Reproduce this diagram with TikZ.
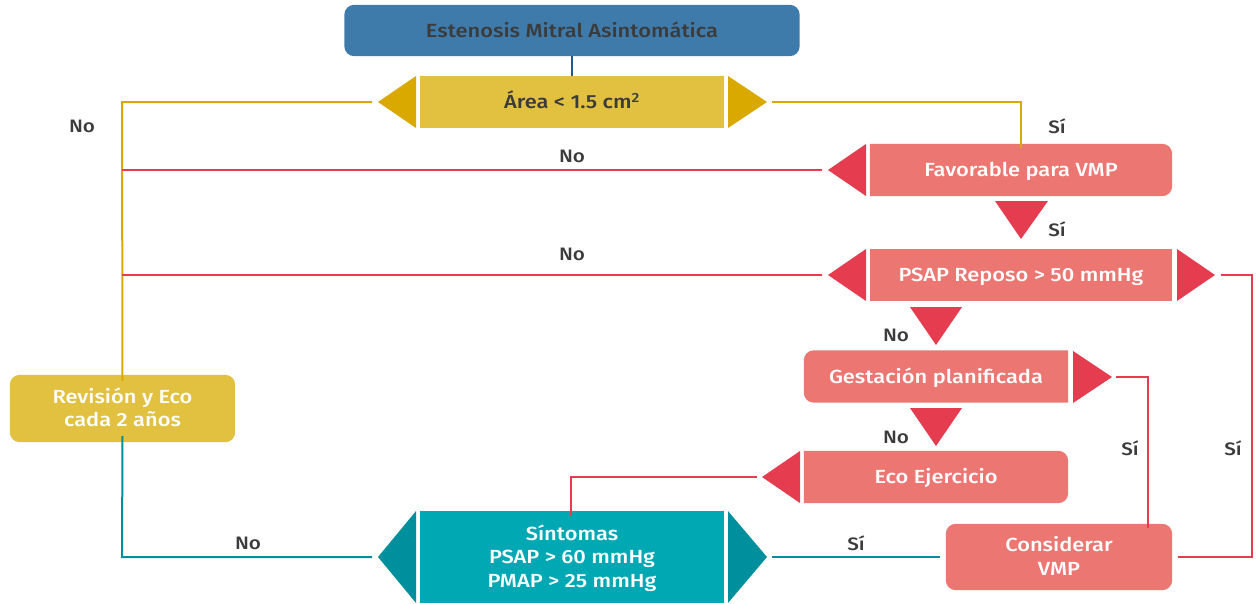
\documentclass[tikz,border=0pt]{standalone}
\usepackage{fontspec}
\setmainfont{Fira Sans}
\newfontfamily\medfont{Fira Sans Medium}[FakeStretch=1.15]
\usetikzlibrary{backgrounds}
\definecolor{topblue}{HTML}{3F7BAA}
\definecolor{linkblue}{HTML}{1F5C8E}
\definecolor{yelbox}{HTML}{E2C040}
\definecolor{yeltri}{HTML}{D9A900}
\definecolor{pinkbox}{HTML}{EC7672}
\definecolor{redtri}{HTML}{E63C50}
\definecolor{tealbox}{HTML}{00A8B4}
\definecolor{tealtri}{HTML}{008F9C}
\definecolor{ink}{HTML}{3B3B3B}
\begin{document}
\begin{tikzpicture}[x=1pt,y=-1pt,
  box/.style={rectangle, inner sep=0pt, align=center, text=white,
    text height=17pt, text depth=4pt,
    font=\medfont\fontsize{19}{23.5}\selectfont},
  twolines/.style={text height=40.5pt},
  threelines/.style={text height=64pt},
  lab/.style={inner sep=0pt, text=ink, font=\medfont\fontsize{18}{20}\selectfont},
  link/.style={line width=2pt},
  yl/.style={link, draw=yeltri},
  rl/.style={link, draw=redtri},
  tl/.style={link, draw=tealtri}]
\useasboundingbox (0,0) rectangle (1256,603);

% ---- boxes (text nodes; fills drawn on the background layer)
\node[box, text=ink, minimum width=455pt, minimum height=51pt] (top) at (572,30.5) {Estenosis Mitral Asintomática};
\node[box, text=ink, minimum width=304pt, minimum height=52pt] (area) at (572,102) {Área < 1.5 cm\textsuperscript{2}};
\node[box, minimum width=302pt, minimum height=52pt] (fav) at (1021,170) {Favorable para VMP};
\node[box, minimum width=302pt, minimum height=52pt] (psap) at (1021,275) {PSAP Reposo > 50 mmHg};
\node[box, minimum width=264pt, minimum height=52pt] (gest) at (936,376.5) {Gestación planificada};
\node[box, minimum width=264pt, minimum height=52pt] (eco) at (936,477) {Eco Ejercicio};
\node[box, threelines, minimum width=304pt, minimum height=92pt] (sint) at (572,557) {Síntomas\\PSAP > 60 mmHg\\PMAP > 25 mmHg};
\node[box, twolines, minimum width=226pt, minimum height=66pt] (cons) at (1059,557) {Considerar\\VMP};
\node[box, twolines, minimum width=225pt, minimum height=67pt] (rev) at (122.5,408.5) {Revisión y Eco\\cada 2 años};

\begin{pgfonlayer}{background}
  \fill[topblue, rounded corners=10pt] (top.north west) rectangle (top.south east);
  \fill[yelbox] (area.north west) rectangle (area.south east);
  \fill[pinkbox] (fav.north west) [rounded corners=10pt] -- (fav.north east) -- (fav.south east) [sharp corners] -- (fav.south west) -- cycle;
  \fill[pinkbox] (psap.north west) rectangle (psap.south east);
  \fill[pinkbox] (gest.north east) [rounded corners=10pt] -- (gest.north west) -- (gest.south west) [sharp corners] -- (gest.south east) -- cycle;
  \fill[pinkbox] (eco.north west) [rounded corners=10pt] -- (eco.north east) -- (eco.south east) [sharp corners] -- (eco.south west) -- cycle;
  \fill[tealbox] (sint.north west) rectangle (sint.south east);
  \fill[pinkbox, rounded corners=10pt] (cons.north west) rectangle (cons.south east);
  \fill[yelbox, rounded corners=10pt] (rev.north west) rectangle (rev.south east);
\end{pgfonlayer}

% ---- decision arrowheads
\fill[yeltri] (416,76) -- (416,128) -- (378,102) coordinate (areaL) -- cycle;
\fill[yeltri] (728,76) -- (728,128) -- (767,102) coordinate (areaR) -- cycle;
\fill[redtri] (866,144) -- (866,196) -- (828,170) coordinate (favL) -- cycle;
\fill[redtri] (995,201) -- (1048,201) -- (1021,239) coordinate (favD) -- cycle;
\fill[redtri] (866,249) -- (866,301) -- (828,275) coordinate (psapL) -- cycle;
\fill[redtri] (1177,249) -- (1177,301) -- (1215,275) coordinate (psapR) -- cycle;
\fill[redtri] (910,307) -- (962,307) -- (936,345) coordinate (psapD) -- cycle;
\fill[redtri] (1073,351) -- (1073,403) -- (1112,377) coordinate (gestR) -- cycle;
\fill[redtri] (910,408) -- (962,408) -- (936,446) coordinate (gestD) -- cycle;
\fill[redtri] (800,451) -- (800,503) -- (762,477) coordinate (ecoL) -- cycle;
\fill[tealtri] (416,511) -- (416,603) -- (378,557) coordinate (sintL) -- cycle;
\fill[tealtri] (728,511) -- (728,603) -- (767,557) coordinate (sintR) -- cycle;

% ---- connectors
\draw[link, draw=linkblue] (top.south) -- (area.north);
\draw[yl] ([xshift=-6pt]areaL) -- (122,102) -- ([yshift=-6pt]rev.north);
\draw[yl] ([xshift=5pt]areaR) -| ([yshift=-4pt]fav.north);
\draw[rl] ([xshift=-6pt]favL) -- (122,170);
\draw[rl] ([xshift=-6pt]psapL) -- (122,275);
\draw[rl] ([xshift=6pt]psapR) -- (1252,275) |- ([xshift=6pt]cons.east);
\draw[rl] ([xshift=4pt]gestR) -- (1148,377) -- ([xshift=89pt,yshift=-4pt]cons.north);
\draw[rl] ([xshift=-5pt]ecoL) -| ([yshift=-5pt,xshift=-1pt]sint.north);
\draw[tl] ([xshift=5pt]sintR) -- ([xshift=-6pt]cons.west);
\draw[tl] ([xshift=-6pt]sintL) -- (122,557) -- ([yshift=6pt]rev.south);

% ---- branch labels
\node[lab] (l1) at (82,126) {No};
\node[lab] (l2) at (1057,126) {Sí};
\node[lab] (l3) at (572,156) {No};
\node[lab] (l4) at (1057,229) {Sí};
\node[lab] (l5) at (572,254) {No};
\node[lab] (l6) at (896,335) {No};
\node[lab] (l7) at (896,437) {No};
\node[lab] (l8) at (1130,448) {Sí};
\node[lab] (l9) at (1233,448) {Sí};
\node[lab] (l10) at (248,543) {No};
\node[lab] (l11) at (856,543) {Sí};
\end{tikzpicture}
\end{document}
